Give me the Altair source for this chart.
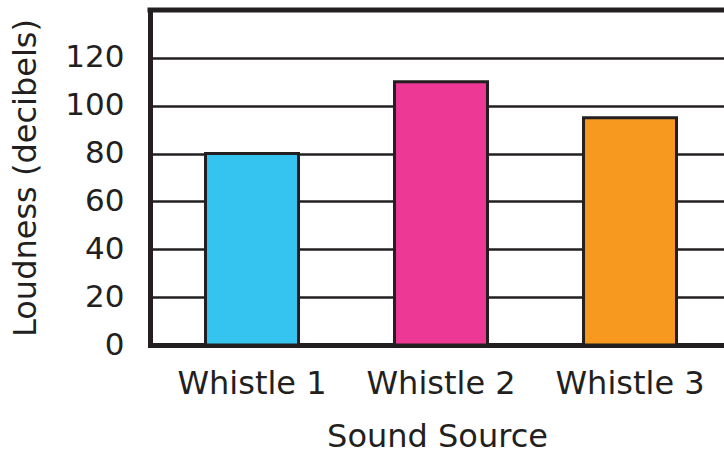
import altair as alt
import pandas as pd

sources = ["Whistle 1", "Whistle 2", "Whistle 3"]
loudness = [80, 110, 95]
colors = ["#35c4f0", "#ed3995", "#f7991f"]
y_ticks = [0, 20, 40, 60, 80, 100, 120]
y_max = 140

ink = "#231f20"
font = "DejaVu Sans"

df = pd.DataFrame({"source": sources, "loudness": loudness})

bars = alt.Chart(df).mark_bar(stroke=ink, strokeWidth=3).encode(
    x=alt.X(
        "source:N",
        sort=sources,
        scale=alt.Scale(paddingInner=0.508, paddingOuter=0.2725, align=0.539),
        axis=alt.Axis(
            title="Sound Source",
            labelAngle=0,
            ticks=False,
            grid=False,
            labelFontSize=32,
            labelPadding=23,
            titlePadding=22,
            domainWidth=5,
            domainColor=ink,
            domainCap="square",
        ),
    ),
    y=alt.Y(
        "loudness:Q",
        scale=alt.Scale(domain=[0, y_max], nice=False),
        axis=alt.Axis(
            title="Loudness (decibels)",
            values=y_ticks,
            ticks=False,
            grid=True,
            gridColor=ink,
            gridWidth=2.5,
            gridOpacity=1,
            labelFontSize=31,
            labelPadding=26,
            titlePadding=22,
            domainWidth=5,
            domainColor=ink,
            domainCap="square",
        ),
    ),
    color=alt.Color(
        "source:N",
        sort=sources,
        scale=alt.Scale(domain=sources, range=colors),
        legend=None,
    ),
)

# heavy frame line across the top of the plot
top = alt.Chart(pd.DataFrame({"y": [y_max]})).mark_rule(
    color=ink, strokeWidth=5, strokeCap="square"
).encode(y=alt.Y("y:Q"))

chart = (
    alt.layer(bars, top)
    .properties(
        width=574,
        height=335,
        autosize=alt.AutoSizeParams(type="none"),
        padding={"left": 150, "top": 10, "right": 0, "bottom": 106},
    )
    .configure_view(stroke=None)
    .configure_axis(
        labelFont=font,
        titleFont=font,
        titleFontSize=32,
        labelColor=ink,
        titleColor=ink,
        titleFontWeight="normal",
    )
)

chart.save("out.html", embed_options={"renderer": "svg", "actions": False})
